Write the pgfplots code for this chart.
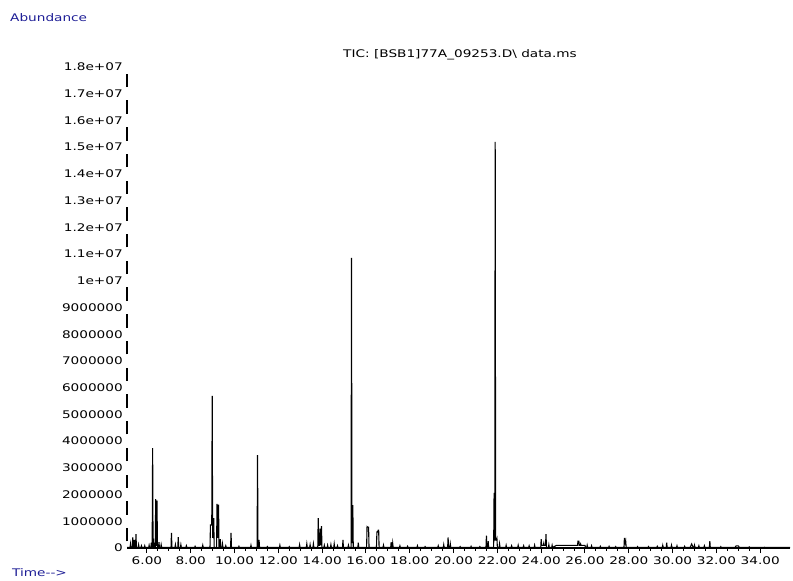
\documentclass[border=0pt]{standalone}
\usepackage{fontspec}
\usepackage{pgfplots}
\pgfplotsset{compat=1.18}
\newfontfamily\cf[FakeStretch=1.3]{DejaVu Sans}
\definecolor{navy}{RGB}{30,30,150}
\begin{document}
\begin{tikzpicture}[x=1pt,y=1pt]
\path[use as bounding box] (0,0) rectangle (793,581);
\begin{axis}[
  at={(127pt,33pt)}, anchor=south west,
  scale only axis, width=663pt, height=481pt,
  xmin=5.09, xmax=35.36, ymin=0, ymax=18,
  axis x line*=bottom, axis y line*=left,
  y axis line style={draw=none},
  x axis line style={line width=1.2pt},
  xtick={6,8,...,34},
  xticklabels={6.00,8.00,10.00,12.00,14.00,16.00,18.00,20.00,22.00,24.00,26.00,28.00,30.00,32.00,34.00},
  minor x tick num=3,
  tick align=outside,
  major tick length=5pt, minor tick length=3pt,
  every tick/.style={black, line width=1pt},
  ytick={0,1,...,18},
  yticklabels={0,1000000,2000000,3000000,4000000,5000000,6000000,7000000,8000000,9000000,1e+07,1.1e+07,1.2e+07,1.3e+07,1.4e+07,1.5e+07,1.6e+07,1.7e+07,1.8e+07},
  ytick style={draw=none},
  xticklabel style={font=\cf\fontsize{10.5}{12}\selectfont, inner sep=1pt, yshift=-3pt},
  yticklabel style={font=\cf\fontsize{10.5}{12}\selectfont, anchor=east, inner sep=0pt, xshift=1pt},
  clip=false,
]
\addplot[black, line width=1.1pt, line join=miter] coordinates {
(5.09,0.02)
(5.23,0.02)(5.25,0.15)(5.27,0.02)
(5.33,0.02)(5.35,0.40)(5.37,0.02)
(5.40,0.02)(5.42,0.30)(5.44,0.02)
(5.48,0.02)(5.50,0.52)(5.52,0.02)
(5.60,0.02)(5.62,0.12)(5.64,0.02)
(5.73,0.02)(5.75,0.08)(5.77,0.02)
(5.88,0.02)(5.90,0.08)(5.92,0.02)
(6.08,0.02)(6.10,0.10)(6.12,0.02)
(6.18,0.02)(6.20,0.20)(6.22,0.02)
(6.24,0.02)(6.26,3.74)(6.28,0.02)
(6.30,0.35)(6.32,0.02)
(6.38,0.02)(6.40,1.83)(6.42,0.10)
(6.44,0.10)(6.46,1.77)(6.48,0.02)
(6.53,0.02)(6.55,0.22)(6.57,0.02)
(6.63,0.02)(6.65,0.12)(6.67,0.02)
(7.10,0.02)(7.12,0.57)(7.14,0.02)
(7.28,0.02)(7.30,0.12)(7.32,0.02)
(7.41,0.02)(7.43,0.41)(7.45,0.02)
(7.53,0.02)(7.55,0.12)(7.57,0.02)
(7.78,0.02)(7.80,0.08)(7.82,0.02)
(8.18,0.02)(8.20,0.06)(8.22,0.02)
(8.53,0.02)(8.55,0.10)(8.57,0.02)
(8.88,0.02)(8.90,0.86)(8.94,0.86)(8.96,0.86)
(8.98,5.69)(9.00,0.40)
(9.03,0.40)(9.05,1.12)(9.07,0.02)
(9.18,0.02)(9.20,1.65)(9.22,0.40)(9.24,0.40)
(9.27,1.62)(9.29,0.02)
(9.33,0.02)(9.35,0.33)(9.37,0.02)
(9.43,0.02)(9.45,0.15)(9.47,0.02)
(9.58,0.02)(9.60,0.08)(9.62,0.02)
(9.82,0.02)(9.84,0.57)(9.86,0.02)
(10.18,0.02)(10.20,0.06)(10.22,0.02)
(10.73,0.02)(10.75,0.10)(10.77,0.02)
(11.03,0.02)(11.05,3.48)(11.07,0.02)
(11.10,0.02)(11.12,0.30)(11.14,0.02)
(11.48,0.02)(11.50,0.05)(11.52,0.02)
(12.05,0.02)(12.07,0.10)(12.09,0.02)
(12.48,0.02)(12.50,0.05)(12.52,0.02)
(12.95,0.02)(12.97,0.12)(12.99,0.02)
(13.28,0.02)(13.30,0.15)(13.32,0.02)
(13.43,0.02)(13.45,0.12)(13.47,0.02)
(13.58,0.02)(13.60,0.15)(13.62,0.02)
(13.80,0.02)(13.82,1.12)(13.84,0.10)
(13.88,0.10)(13.90,0.70)(13.93,0.70)
(13.95,0.10)(13.97,0.82)(13.99,0.02)
(14.08,0.02)(14.10,0.10)(14.12,0.02)
(14.23,0.02)(14.25,0.10)(14.27,0.02)
(14.38,0.02)(14.40,0.12)(14.42,0.02)
(14.53,0.02)(14.55,0.15)(14.57,0.02)
(14.68,0.02)(14.70,0.08)(14.72,0.02)
(14.93,0.02)(14.95,0.30)(14.97,0.02)
(15.18,0.02)(15.20,0.10)(15.22,0.02)
(15.32,0.02)(15.34,10.86)(15.36,0.20)
(15.38,0.20)(15.40,1.60)(15.42,0.02)
(15.63,0.02)(15.65,0.20)(15.67,0.02)
(16.03,0.02)(16.05,0.80)(16.08,0.78)(16.10,0.78)(16.12,0.78)(16.14,0.02)
(16.48,0.02)(16.50,0.60)(16.53,0.60)(16.56,0.67)(16.58,0.67)(16.60,0.02)
(16.78,0.02)(16.80,0.10)(16.82,0.02)
(17.13,0.02)(17.15,0.22)(17.17,0.02)
(17.20,0.02)(17.22,0.18)(17.24,0.02)
(17.53,0.02)(17.55,0.08)(17.57,0.02)
(17.88,0.02)(17.90,0.06)(17.92,0.02)
(18.33,0.02)(18.35,0.08)(18.37,0.02)
(18.68,0.02)(18.70,0.05)(18.72,0.02)
(19.28,0.02)(19.30,0.08)(19.32,0.02)
(19.53,0.02)(19.55,0.12)(19.57,0.02)
(19.73,0.02)(19.75,0.40)(19.77,0.02)
(19.83,0.02)(19.85,0.15)(19.87,0.02)
(20.28,0.02)(20.30,0.05)(20.32,0.02)
(20.78,0.02)(20.80,0.06)(20.82,0.02)
(21.18,0.02)(21.20,0.05)(21.22,0.02)
(21.48,0.02)(21.50,0.46)(21.52,0.02)
(21.56,0.02)(21.58,0.26)(21.60,0.02)
(21.83,0.02)(21.85,2.06)(21.87,0.30)
(21.88,0.30)(21.90,15.20)(21.92,0.30)
(21.96,0.30)(21.98,0.35)(22.00,0.02)
(22.08,0.02)(22.10,0.15)(22.12,0.02)
(22.38,0.02)(22.40,0.10)(22.42,0.02)
(22.63,0.02)(22.65,0.08)(22.67,0.02)
(22.93,0.02)(22.95,0.10)(22.97,0.02)
(23.18,0.02)(23.20,0.08)(23.22,0.02)
(23.43,0.02)(23.45,0.08)(23.47,0.02)
(23.68,0.02)(23.70,0.10)(23.72,0.02)
(23.98,0.02)(24.00,0.33)(24.02,0.10)
(24.10,0.10)(24.12,0.18)(24.14,0.10)
(24.20,0.10)(24.22,0.52)(24.24,0.02)
(24.33,0.02)(24.35,0.12)(24.37,0.02)
(24.48,0.02)(24.50,0.10)(24.52,0.02)
(24.70,0.10)(25.00,0.10)(25.30,0.10)(25.66,0.10)
(25.68,0.26)(25.72,0.26)(25.74,0.10)
(25.78,0.10)(25.80,0.15)(25.82,0.10)(26.00,0.10)(26.02,0.02)
(26.08,0.02)(26.10,0.10)(26.12,0.02)
(26.28,0.02)(26.30,0.08)(26.32,0.02)
(26.68,0.02)(26.70,0.06)(26.72,0.02)
(27.08,0.02)(27.10,0.06)(27.12,0.02)
(27.38,0.02)(27.40,0.05)(27.42,0.02)
(27.78,0.02)(27.80,0.38)(27.82,0.15)
(27.84,0.15)(27.86,0.24)(27.88,0.02)
(28.38,0.02)(28.40,0.05)(28.42,0.02)
(28.88,0.02)(28.90,0.05)(28.92,0.02)
(29.28,0.02)(29.30,0.06)(29.32,0.02)
(29.53,0.02)(29.55,0.10)(29.57,0.02)
(29.71,0.02)(29.73,0.20)(29.75,0.02)
(29.93,0.02)(29.95,0.10)(29.97,0.02)
(30.18,0.02)(30.20,0.08)(30.22,0.02)
(30.53,0.02)(30.55,0.06)(30.57,0.02)
(30.80,0.02)(30.87,0.15)(30.94,0.02)
(30.98,0.02)(31.00,0.10)(31.02,0.02)
(31.18,0.02)(31.20,0.08)(31.22,0.02)
(31.43,0.02)(31.45,0.08)(31.47,0.02)
(31.68,0.02)(31.70,0.26)(31.72,0.02)
(32.18,0.02)(32.20,0.05)(32.22,0.02)
(32.85,0.02)(32.90,0.08)(33.00,0.08)(33.05,0.02)
(33.48,0.02)(33.50,0.04)(33.52,0.02)
(34.18,0.02)(34.20,0.03)(34.22,0.02)
(35.36,0.02)
};
\draw[black, line width=1.3pt, dash pattern=on 13.36pt off 13.36pt, dash phase=20.04pt]
  (rel axis cs:0,0) -- (rel axis cs:0,1);
\end{axis}
\node[anchor=center, font=\cf\fontsize{10.5}{12}\selectfont] at (460,526) {TIC: [BSB1]77A\_09253.D\textbackslash\ data.ms};
\node[anchor=west, inner sep=0pt, text=navy, font=\cf\fontsize{10.5}{12}\selectfont] at (10,563) {Abundance};
\node[anchor=west, inner sep=0pt, text=navy, font=\cf\fontsize{10.5}{12}\selectfont] at (12,8) {Time-->};
\end{tikzpicture}
\end{document}
